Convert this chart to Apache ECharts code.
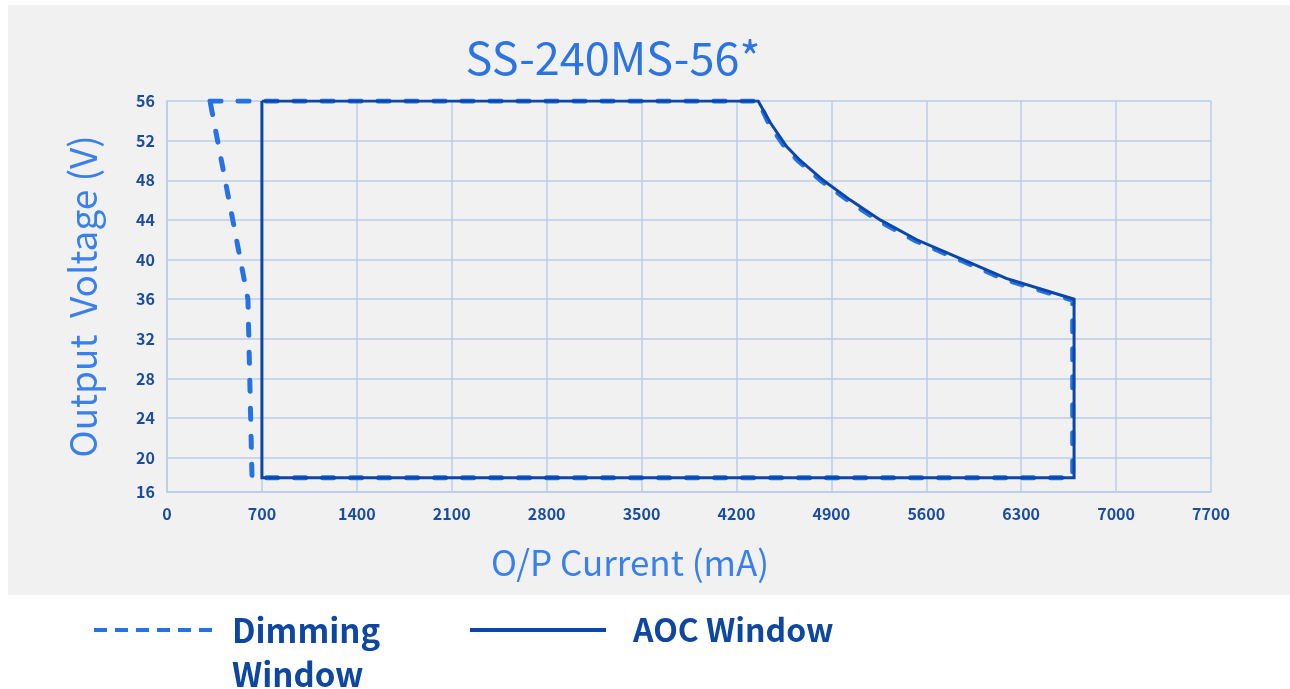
<!DOCTYPE html>
<html>
<head>
<meta charset="utf-8">
<title>SS-240MS-56*</title>
<script src="https://cdn.jsdelivr.net/npm/echarts@6/dist/echarts.min.js"></script>
<style>
    html, body { margin: 0; padding: 0; background: #fff; }
    #chart { width: 1290px; height: 689px; }
</style>
</head>
<body>
<div id="chart"></div>
<script>
    "use strict";
    var FONT = '"Noto Sans CJK SC", "Noto Sans", sans-serif';

    // axis ticks
    var xTicks = [0, 700, 1400, 2100, 2800, 3500, 4200, 4900, 5600, 6300, 7000, 7700];
    var yTicks = [16.55, 20, 24, 28, 32, 36, 40, 44, 48, 52, 56];

    // AOC window (solid)
    var aocCurrent = [700, 4360, 4450, 4570, 4670, 4840, 5040, 5260, 5530, 5870, 6190, 6690, 6690, 700, 700];
    var aocVoltage = [56, 56, 53.8, 51.4, 50, 48, 46, 44, 42, 40, 38.1, 36, 18, 18, 56];

    // Dimming window (dashed)
    var dimCurrent = [317, 4360, 4440, 4560, 4660, 4830, 5030, 5250, 5520, 5860, 6180, 6680, 6680, 627, 597, 317];
    var dimVoltage = [56, 56, 53.7, 51.3, 49.9, 47.9, 45.9, 43.9, 41.9, 39.9, 38, 35.9, 18, 18, 36, 56];

    function pairs(xs, ys) {
        var out = [];
        for (var i = 0; i < xs.length; i++) {
            out.push([xs[i], ys[i]]);
        }
        return out;
    }

    var gridColor = '#b9cde9';
    var tickColor = '#1b4c9f';

    var chart = echarts.init(document.getElementById('chart'));
    chart.setOption({
        backgroundColor: '#ffffff',
        animation: false,
        graphic: [{
            type: 'rect',
            z: -10,
            silent: true,
            shape: { x: 8, y: 5, width: 1282, height: 590 },
            style: { fill: '#f1f1f1' }
        }],
        title: {
            text: 'SS-240MS-56*',
            left: 608,
            textAlign: 'center',
            top: 30,
            textStyle: { fontFamily: FONT, fontSize: 45, fontWeight: 'normal', color: '#2a74e3' }
        },
        legend: [{
            data: ['Dimming Window'],
            left: 92,
            top: 564,
            padding: 0,
            selectedMode: false,
            itemWidth: 123,
            itemHeight: 14,
            formatter: function () { return ' \nDimming\nWindow'; },
            itemStyle: { opacity: 0 },
            lineStyle: { color: '#2672e4', width: 4, type: [13, 8], cap: 'butt' },
            textStyle: { fontFamily: FONT, fontSize: 33, fontWeight: 'bold', color: '#0d47a1', lineHeight: 44, padding: [0, 0, 0, 10] }
        }, {
            data: ['AOC Window'],
            left: 468,
            top: 608,
            padding: 0,
            selectedMode: false,
            itemWidth: 136,
            itemHeight: 14,
            itemStyle: { opacity: 0 },
            lineStyle: { color: '#0b47a8', width: 4, type: 'solid' },
            textStyle: { fontFamily: FONT, fontSize: 32, fontWeight: 'bold', color: '#0d47a1', lineHeight: 44, padding: [0, 0, 0, 22] }
        }],
        grid: { left: 167, right: 79, top: 101, bottom: 197, containLabel: false },
        xAxis: {
            type: 'value',
            min: 0,
            max: 7700,
            interval: 700,
            name: 'O/P Current (mA)',
            nameLocation: 'middle',
            nameGap: 53,
            nameTextStyle: { fontFamily: FONT, fontSize: 35, color: '#3a80ec', padding: [0, 118, 0, 0] },
            axisLine: { show: true, lineStyle: { color: gridColor, width: 1.5 } },
            axisTick: { show: false },
            splitLine: { show: true, lineStyle: { color: gridColor, width: 1.5 } },
            axisLabel: {
                margin: 14,
                fontFamily: FONT, fontSize: 16, fontWeight: 'bold', color: tickColor,
                showMinLabel: true, showMaxLabel: true,
                formatter: function (v) { return String(v); }
            }
        },
        yAxis: {
            type: 'value',
            min: 16.55,
            max: 56,
            name: 'Output  Voltage (V)',
            nameLocation: 'middle',
            nameGap: 66,
            nameTextStyle: { fontFamily: FONT, fontSize: 37, color: '#3a80ec' },
            axisLine: { show: true, lineStyle: { color: gridColor, width: 1.5 } },
            axisTick: { show: false, customValues: yTicks },
            splitLine: { show: true, lineStyle: { color: gridColor, width: 1.5 } },
            axisLabel: {
                customValues: yTicks,
                margin: 12,
                fontFamily: FONT, fontSize: 16, fontWeight: 'bold', color: tickColor,
                formatter: function (v) { return v < 17 ? '16' : String(v); }
            }
        },
        series: [{
            name: 'Dimming Window',
            type: 'line',
            z: 2,
            symbol: 'none',
            data: pairs(dimCurrent, dimVoltage),
            lineStyle: { color: '#2672e4', width: 5, type: [11, 17], cap: 'round', join: 'round' },
            itemStyle: { color: '#2672e4' }
        }, {
            name: 'AOC Window',
            type: 'line',
            z: 3,
            symbol: 'none',
            data: pairs(aocCurrent, aocVoltage),
            lineStyle: { color: '#0b47a8', width: 3, type: 'solid', join: 'miter' },
            itemStyle: { color: '#0b47a8' }
        }]
    });
</script>
</body>
</html>
